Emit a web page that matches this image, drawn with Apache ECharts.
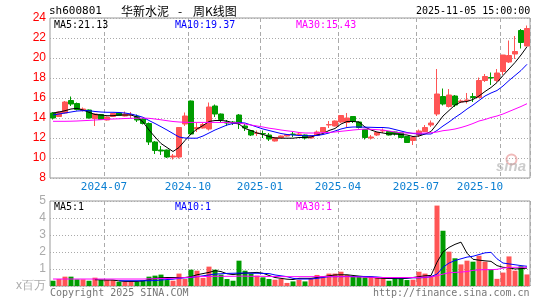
<!DOCTYPE html>
<html lang="zh">
<head>
<meta charset="UTF-8">
<title>华新水泥 周K线图</title>
<style>
  html, body { margin: 0; padding: 0; background: #fff; }
  #main { width: 545px; height: 300px; }
</style>
</head>
<body>
<div id="main"></div>
<script src="https://cdn.jsdelivr.net/npm/echarts@6/dist/echarts.min.js"></script>
<script>
// 每周最后一个交易日
const dates = [
  '2024-04-30','2024-05-10','2024-05-17','2024-05-24','2024-05-31','2024-06-07','2024-06-14','2024-06-21','2024-06-28','2024-07-05',
  '2024-07-12','2024-07-19','2024-07-26','2024-08-02','2024-08-09','2024-08-16','2024-08-23','2024-08-30','2024-09-06','2024-09-13',
  '2024-09-20','2024-09-27','2024-09-30','2024-10-11','2024-10-18','2024-10-25','2024-11-01','2024-11-08','2024-11-15','2024-11-22',
  '2024-11-29','2024-12-06','2024-12-13','2024-12-20','2024-12-27','2025-01-03','2025-01-10','2025-01-17','2025-01-24','2025-01-27',
  '2025-02-07','2025-02-14','2025-02-21','2025-02-28','2025-03-07','2025-03-14','2025-03-21','2025-03-28','2025-04-03','2025-04-11',
  '2025-04-18','2025-04-25','2025-04-30','2025-05-09','2025-05-16','2025-05-23','2025-05-30','2025-06-06','2025-06-13','2025-06-20',
  '2025-06-27','2025-07-04','2025-07-11','2025-07-18','2025-07-25','2025-08-01','2025-08-08','2025-08-15','2025-08-22','2025-08-29',
  '2025-09-05','2025-09-12','2025-09-19','2025-09-26','2025-09-30','2025-10-10','2025-10-17','2025-10-24','2025-10-31','2025-11-05'
];

const openP = [
  14.5,14.15,14.5,15.75,15.45,14.75,14.8,13.95,14.35,13.8,
  14.15,14.5,14.2,14.3,14.15,13.9,13.45,11.6,10.8,10.8,
  10.1,10.1,13.4,15.7,12.9,13.0,12.9,15.2,14.4,13.6,
  13.6,14.3,13.2,12.75,12.45,12.45,12.3,11.7,12.05,12.2,
  12.4,12.35,12.3,12.0,12.25,12.6,13.3,13.2,13.6,13.55,
  14.15,13.6,12.85,12.0,12.3,12.7,12.65,12.6,12.5,12.15,
  11.75,12.3,12.65,13.3,14.4,16.15,15.15,16.2,15.6,15.75,
  16.15,16.05,17.75,18.05,17.75,18.65,19.6,20.4,22.75,21.2
];
const closeP = [
  14.0,14.6,15.6,15.4,14.85,14.9,14.0,14.4,13.85,14.1,
  14.45,14.25,14.4,14.35,13.8,13.45,11.6,10.75,10.7,10.1,
  10.2,13.05,14.2,12.4,13.05,13.35,15.1,14.4,13.85,13.5,
  13.5,13.5,13.0,12.3,12.5,12.4,11.9,12.05,12.2,12.35,
  12.35,12.4,12.0,12.2,12.6,13.05,13.35,13.7,14.25,14.0,
  13.65,13.05,12.05,12.1,12.55,12.75,12.3,12.4,12.05,11.55,
  12.05,12.7,13.05,13.5,16.4,15.4,16.3,15.3,15.7,15.8,
  16.05,17.75,18.15,18.0,18.5,20.3,20.25,20.65,21.55,22.95
];
const lowP = [
  13.85,14.1,14.45,15.2,14.75,14.65,13.95,13.2,13.8,13.75,
  14.1,14.2,14.15,14.0,13.6,13.35,11.3,10.4,10.3,10.0,
  9.85,9.95,13.2,12.35,12.6,12.95,12.75,14.1,13.5,13.2,
  13.3,12.9,12.7,12.2,12.2,12.0,11.7,11.65,12.0,12.15,
  12.1,12.2,11.85,11.95,12.2,12.55,13.0,13.15,13.5,13.1,
  13.5,12.95,11.85,11.85,12.2,12.5,12.25,12.25,12.0,11.5,
  11.3,12.1,12.6,13.1,14.2,15.25,15.05,15.1,15.5,15.45,
  15.6,16.0,17.6,17.3,17.6,18.3,19.5,19.9,20.95,21.2
];
const highP = [
  14.6,14.65,15.7,16.15,15.55,15.05,14.85,14.45,14.4,14.15,
  14.5,14.55,14.65,14.6,14.35,14.0,13.55,11.7,11.2,10.85,
  10.4,13.1,14.55,15.75,13.5,13.5,15.55,15.35,14.45,13.8,
  13.7,14.4,13.4,12.8,12.75,12.75,12.5,12.1,12.25,12.4,
  12.6,12.6,12.35,12.25,12.75,13.1,13.7,13.75,14.3,14.5,
  14.2,13.65,12.9,12.3,12.6,12.95,12.7,12.65,12.55,12.2,
  12.2,12.85,13.3,13.75,18.9,16.95,16.9,16.3,15.85,16.5,
  16.5,18.05,18.4,18.55,18.9,20.3,21.75,22.2,22.9,23.25
];

const ma5 = [
  14.5,14.6,14.73,14.9,14.97,14.8,14.57,14.35,14.3,14.23,
  14.23,14.3,14.3,14.3,14.1,13.6,12.8,12.1,11.45,11.05,
  10.65,11.05,11.75,12.4,12.9,13.25,13.65,13.75,13.75,13.7,
  13.5,13.4,12.95,12.75,12.5,12.35,12.15,12.0,11.98,11.98,
  11.98,12.05,12.05,12.1,12.3,12.45,12.75,12.95,13.4,13.65,
  13.65,13.6,13.1,12.8,12.6,12.5,12.4,12.4,12.35,12.3,
  12.15,12.2,12.4,12.65,13.4,14.2,14.75,15.3,15.6,15.65,
  15.85,16.2,16.65,17.05,17.55,18.25,18.9,19.55,20.3,21.13
];
const ma10 = [
  14.3,14.4,14.5,14.6,14.7,14.73,14.73,14.65,14.6,14.57,
  14.57,14.55,14.5,14.4,14.25,14.07,13.75,13.45,13.13,12.8,
  12.45,12.1,12.0,11.98,11.98,12.2,12.5,12.8,13.05,13.3,
  13.45,13.55,13.5,13.3,13.1,12.9,12.75,12.6,12.45,12.35,
  12.3,12.25,12.23,12.23,12.25,12.35,12.5,12.7,12.9,13.05,
  13.1,13.1,13.08,13.07,13.05,13.05,13.0,12.85,12.7,12.55,
  12.45,12.4,12.4,12.4,12.75,13.2,13.6,14.05,14.45,14.9,
  15.3,15.75,16.2,16.5,16.75,17.2,17.75,18.25,18.75,19.37
];
const ma30 = [
  13.67,13.67,13.67,13.68,13.7,13.73,13.76,13.8,13.83,13.87,
  13.9,13.92,13.95,13.97,13.98,13.99,13.97,13.9,13.82,13.73,
  13.65,13.6,13.57,13.56,13.56,13.56,13.56,13.56,13.55,13.54,
  13.52,13.5,13.4,13.3,13.2,13.1,12.98,12.9,12.8,12.72,
  12.65,12.55,12.5,12.5,12.5,12.53,12.56,12.6,12.67,12.73,
  12.8,12.85,12.9,12.87,12.83,12.8,12.7,12.6,12.52,12.5,
  12.48,12.48,12.5,12.52,12.6,12.73,12.8,12.9,13.05,13.23,
  13.45,13.7,13.85,14.05,14.2,14.4,14.65,14.9,15.15,15.43
];

// 成交量 (百万股)
const vol = [
  0.31,0.41,0.55,0.55,0.39,0.39,0.31,0.49,0.35,0.35,
  0.35,0.25,0.25,0.25,0.25,0.31,0.55,0.61,0.67,0.35,
  0.31,0.73,0.41,0.96,0.9,0.47,1.14,0.96,0.67,0.41,
  0.31,1.49,0.9,0.73,0.61,0.51,0.41,0.37,0.41,0.18,
  0.27,0.37,0.27,0.45,0.65,0.57,0.73,0.73,0.84,0.65,
  0.55,0.55,0.51,0.55,0.51,0.45,0.31,0.45,0.51,0.35,
  0.37,0.84,0.73,0.61,4.73,3.25,2.02,1.63,1.27,1.49,
  1.43,1.78,1.43,0.99,0.42,0.79,1.74,0.9,1.16,0.68
];
const volMa5 = [
  '-','-','-','-','-','-','-',0.37,0.36,0.35,
  0.35,0.3,0.27,0.27,0.27,0.3,0.38,0.45,0.48,0.5,
  0.5,0.5,0.5,0.55,0.66,0.73,0.8,0.9,0.85,0.72,
  0.67,0.72,0.76,0.78,0.8,0.75,0.62,0.5,0.45,0.4,
  0.38,0.45,0.45,0.45,0.5,0.55,0.6,0.65,0.66,0.66,
  0.62,0.58,0.55,0.52,0.47,0.45,0.44,0.44,0.43,0.45,
  0.5,0.55,0.6,0.62,1.4,2.0,2.27,2.45,2.58,1.93,
  1.57,1.52,1.48,1.45,1.2,1.1,1.07,1.0,1.02,1.05
];
const volMa10 = [
  '-','-','-','-','-','-','-','-','-','-',
  '-',0.31,0.31,0.31,0.31,0.31,0.31,0.32,0.35,0.38,
  0.4,0.45,0.48,0.5,0.55,0.6,0.65,0.7,0.72,0.74,
  0.75,0.76,0.76,0.75,0.75,0.74,0.73,0.65,0.6,0.55,
  0.45,0.41,0.41,0.41,0.45,0.5,0.55,0.55,0.55,0.56,
  0.56,0.56,0.56,0.55,0.53,0.5,0.49,0.48,0.48,0.48,
  0.48,0.48,0.5,0.55,0.7,1.1,1.35,1.5,1.6,1.7,
  1.75,1.85,1.95,1.98,1.6,1.35,1.3,1.25,1.2,1.16
];
const volMa30 = [
  0.41,0.41,0.41,0.41,0.41,0.41,0.41,0.41,0.41,0.41,
  0.41,0.41,0.41,0.41,0.41,0.41,0.42,0.43,0.44,0.44,
  0.45,0.47,0.5,0.52,0.55,0.55,0.56,0.57,0.57,0.57,
  0.57,0.58,0.58,0.57,0.57,0.57,0.56,0.56,0.55,0.55,
  0.55,0.55,0.55,0.55,0.55,0.55,0.55,0.55,0.55,0.55,
  0.54,0.53,0.52,0.51,0.5,0.5,0.5,0.5,0.5,0.5,
  0.5,0.51,0.52,0.53,0.6,0.7,0.78,0.8,0.82,0.85,
  0.92,0.95,0.96,0.96,0.98,1.05,1.1,1.1,1.1,1.1
];

const UP = '#ff5555', DOWN = '#009c00';
const MONO = '"DejaVu Sans Mono", monospace';
const CJK = '"Noto Sans CJK SC"';
const last = arr => arr[arr.length - 1];

const candles = dates.map((d, i) => [openP[i], closeP[i], lowP[i], highP[i]]);

// 季度首月处画竖线、写标签
function isQuarterStart(idx) {
  if (idx === 0) return false;
  const m = dates[idx].slice(5, 7), pm = dates[idx - 1].slice(5, 7);
  return m !== pm && ['01', '04', '07', '10'].indexOf(m) >= 0;
}
const lastLabelIdx = dates.reduce((acc, d, i) => isQuarterStart(i) ? i : acc, -1);

const vSplit = {
  show: true,
  interval: idx => isQuarterStart(idx),
  lineStyle: { color: '#aaa', type: [4, 3], width: 1 }
};
const hSplit = { show: true, lineStyle: { color: '#aaa', type: [1, 2], width: 1 } };

function lineSeries(data, color, x, y) {
  return {
    type: 'line', data: data, xAxisIndex: x, yAxisIndex: y,
    symbol: 'none', smooth: false, connectNulls: false,
    lineStyle: { color: color, width: 1 }, z: 5
  };
}

function txt(left, top, text, color, size, family) {
  return {
    type: 'text', left: left, top: top, z: 20,
    style: { text: text, fill: color, font: size + 'px ' + family }
  };
}

const chart = echarts.init(document.getElementById('main'), null, { renderer: 'canvas' });
chart.setOption({
  animation: false,
  backgroundColor: '#fff',
  grid: [
    { left: 50, right: 15, top: 18, height: 160, show: true, borderColor: '#999', borderWidth: 1 },
    { left: 50, right: 15, top: 201, height: 85, show: true, borderColor: '#999', borderWidth: 1 }
  ],
  xAxis: [
    {
      type: 'category', gridIndex: 0, data: dates, boundaryGap: true,
      axisLine: { show: false }, axisTick: { show: false },
      axisLabel: {
        interval: idx => isQuarterStart(idx),
        margin: 4,
        formatter: (v, idx) => (idx === lastLabelIdx ? '{r|' : '{n|') + v.slice(0, 7) + '}',
        rich: {
          n: { color: '#0a7fd2', fontSize: 11, fontFamily: MONO, padding: [0, 6, 0, 0] },
          r: { color: '#0a7fd2', fontSize: 11, fontFamily: MONO, padding: [0, 46, 0, 0] }
        }
      },
      splitLine: vSplit
    },
    {
      type: 'category', gridIndex: 1, data: dates, boundaryGap: true,
      axisLine: { show: false }, axisTick: { show: false }, axisLabel: { show: false },
      splitLine: vSplit
    }
  ],
  yAxis: [
    {
      type: 'value', gridIndex: 0, min: 8, max: 24, interval: 2,
      axisLine: { show: false }, axisTick: { show: false },
      axisLabel: { color: '#ff0000', fontSize: 12, fontFamily: 'Liberation Sans', margin: 4 },
      splitLine: hSplit
    },
    {
      type: 'value', gridIndex: 1, min: 0, max: 5, interval: 1,
      axisLine: { show: false }, axisTick: { show: false },
      axisLabel: {
        color: '#aaa', fontSize: 12, fontFamily: 'Liberation Sans', margin: 4,
        formatter: v => v === 0 ? 'x百万' : String(v)
      },
      splitLine: hSplit
    }
  ],
  series: [
    {
      type: 'candlestick', data: candles, xAxisIndex: 0, yAxisIndex: 0,
      barWidth: 5,
      itemStyle: { color: UP, color0: DOWN, borderColor: UP, borderColor0: DOWN, borderWidth: 1 },
      z: 3
    },
    lineSeries(ma5, '#000000', 0, 0),
    lineSeries(ma10, '#0000ff', 0, 0),
    lineSeries(ma30, '#ff00ff', 0, 0),
    {
      type: 'bar', data: vol, xAxisIndex: 1, yAxisIndex: 1, barWidth: 5,
      itemStyle: { color: p => closeP[p.dataIndex] >= openP[p.dataIndex] ? UP : DOWN },
      z: 3
    },
    lineSeries(volMa5, '#000000', 1, 1),
    lineSeries(volMa10, '#0000ff', 1, 1),
    lineSeries(volMa30, '#ff00ff', 1, 1)
  ],
  graphic: [
    txt(49, 6, 'sh600801', '#000', 11, MONO),
    txt(121, 5, '华新水泥', '#000', 12, CJK),
    txt(178, 5, '-', '#000', 12, CJK),
    txt(193, 5, '周K线图', '#000', 12, CJK),
    txt(416, 6, last(dates) + ' 15:00:00', '#000', 10, MONO),
    txt(54, 20, 'MA5:' + last(ma5).toFixed(2), '#000', 10, MONO),
    txt(175, 20, 'MA10:' + last(ma10).toFixed(2), '#0000ff', 10, MONO),
    txt(296, 20, 'MA30:' + last(ma30).toFixed(2), '#ff00ff', 10, MONO),
    txt(54, 202, 'MA5:' + Math.round(last(volMa5)), '#000', 10, MONO),
    txt(175, 202, 'MA10:' + Math.round(last(volMa10)), '#0000ff', 10, MONO),
    txt(296, 202, 'MA30:' + Math.round(last(volMa30)), '#ff00ff', 10, MONO),
    txt(50, 288, 'Copyright 2025 SINA.COM', '#777', 10, MONO),
    txt(373, 288, 'http://finance.sina.com.cn', '#777', 10, MONO),
    // 新浪水印
    { type: 'circle', left: 504, top: 152, z: 1,
      shape: { r: 5 }, style: { fill: 'none', stroke: 'rgba(230,140,140,0.6)', lineWidth: 2 } },
    { type: 'text', left: 496, top: 159, z: 1,
      style: { text: 'sina', fill: 'rgba(170,170,170,0.6)', font: 'italic bold 15px "Liberation Sans"' } }
  ]
});
</script>
</body>
</html>
